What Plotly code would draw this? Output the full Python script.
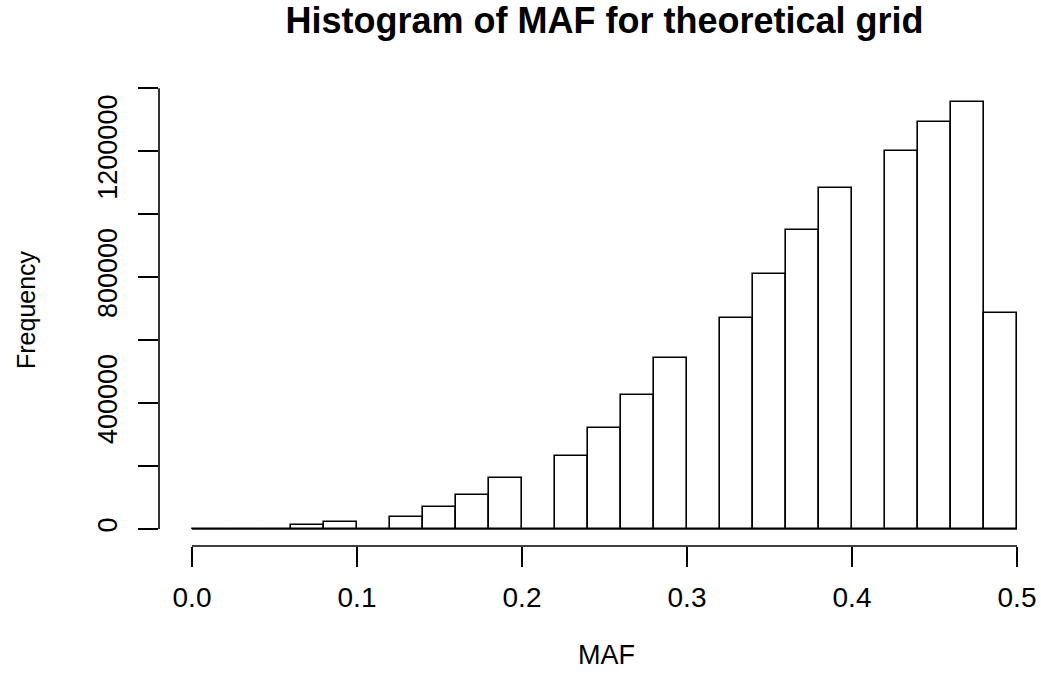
import plotly.graph_objects as go

# Data
bin_edges = [round(i * 0.02, 2) for i in range(26)]
counts = [0, 0, 0, 12000, 21000, 0, 38000, 71000, 109000, 162000,
          0, 231000, 322000, 424000, 543000, 0, 671000, 811000, 949000, 1084000,
          0, 1201000, 1292000, 1356000, 687000]
x_tickvals = [0.0, 0.1, 0.2, 0.3, 0.4, 0.5]
x_ticktext = ["0.0", "0.1", "0.2", "0.3", "0.4", "0.5"]
y_tickvals = [0, 200000, 400000, 600000, 800000, 1000000, 1200000, 1400000]
y_ticktext = ["0", "", "400000", "", "800000", "", "1200000", ""]

centers = [(bin_edges[i] + bin_edges[i + 1]) / 2 for i in range(len(counts))]
widths = [bin_edges[i + 1] - bin_edges[i] for i in range(len(counts))]

FONT = "Liberation Sans, Arial, sans-serif"

fig = go.Figure()
fig.add_trace(go.Bar(
    x=centers, y=counts, width=widths,
    marker=dict(color="white", line=dict(color="black", width=1.6)),
    hoverinfo="x+y", showlegend=False,
))
# baseline drawn by zero-height bins (as in R)
fig.add_trace(go.Scatter(
    x=[bin_edges[0], bin_edges[-1]], y=[0, 0], mode="lines",
    line=dict(color="black", width=1.6), showlegend=False, hoverinfo="skip",
))

fig.update_layout(
    width=1041, height=674, autosize=False,
    margin=dict(l=159, r=0, t=85, b=128),
    paper_bgcolor="white", plot_bgcolor="white",
    font=dict(family=FONT, size=26, color="black"),
    title=dict(text="<b>Histogram of MAF for theoretical grid</b>",
               font=dict(family=FONT, size=36, color="black"),
               x=604.5 / 1041, xanchor="center", xref="container",
               y=1 - 20 / 674, yanchor="middle", yref="container"),
    bargap=0,
    xaxis=dict(range=[-0.02, 0.5 + 24 / 1650], showgrid=False, zeroline=False,
               showline=False, ticks="outside", ticklen=20, tickwidth=1.6,
               tickcolor="black", tickvals=x_tickvals, ticktext=x_ticktext,
               tickfont=dict(size=28), ticklabelstandoff=6,
               automargin=False, fixedrange=True),
    yaxis=dict(range=[-54240, 1410240], showgrid=False, zeroline=False,
               showline=False, ticks="outside", ticklen=20, tickwidth=1.6,
               tickcolor="black", tickvals=y_tickvals, ticktext=y_ticktext,
               tickangle=-90, tickfont=dict(size=27), ticklabelstandoff=10,
               automargin=False, fixedrange=True),
    shapes=[
        dict(type="line", xref="x", yref="paper", x0=x_tickvals[0], x1=x_tickvals[-1],
             y0=0, y1=0, line=dict(color="black", width=1.6)),
        dict(type="line", xref="paper", yref="y", x0=0, x1=0,
             y0=y_tickvals[0], y1=y_tickvals[-1], line=dict(color="black", width=1.6)),
    ],
    annotations=[
        dict(text="MAF", xref="paper", yref="paper", x=(606 - 159) / 882,
             y=-(655 - 546) / 461, xanchor="center", yanchor="middle",
             showarrow=False, font=dict(size=27)),
        dict(text="Frequency", xref="paper", yref="paper", x=(26 - 159) / 882,
             y=(546 - 310) / 461, xanchor="center", yanchor="middle",
             textangle=-90, showarrow=False, font=dict(size=25)),
    ],
)

fig.write_html("out.html")
